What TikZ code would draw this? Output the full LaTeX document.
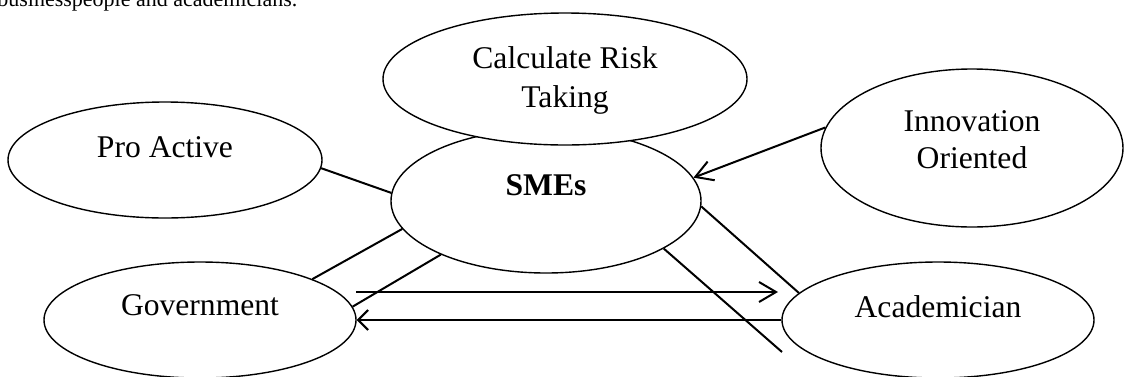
\documentclass[tikz,border=0pt]{standalone}
\usepackage{fontspec}
\setmainfont{Liberation Serif}
\usetikzlibrary{arrows.meta,shapes.geometric}

\begin{document}
\begin{tikzpicture}[
x=0.5pt, y=-0.5pt,
oval/.style={draw, ellipse, fill=white, line width=0.7pt, inner sep=0pt, align=center, text height=11pt, font=\fontsize{15.8pt}{18.5pt}\selectfont},
link/.style={line width=1pt},
arr/.style={-{Straight Barb[length=8.5pt,width=10pt]}, line width=1pt},
arrback/.style={-{Straight Barb[length=5pt,width=10pt]}, line width=1pt}
]
\useasboundingbox (0,0) rectangle (1125,376);
\clip (0,0) rectangle (1125,376);

\node[anchor=base west, inner sep=0pt, font=\fontsize{11pt}{13pt}\selectfont] (intro) at (-3,6) {businesspeople and academicians.};

\node[oval, minimum width=155pt, minimum height=72pt, text depth=17pt] (smes) at (546,201) {\textbf{SMEs}};
\node[oval, minimum width=182pt, minimum height=66pt, text height=32pt, text depth=4pt] (risk) at (565,79) {Calculate Risk\\[1pt]Taking};
\node[oval, minimum width=157pt, minimum height=58pt, text depth=14pt] (pro) at (165,160) {Pro Active};
\node[oval, minimum width=151pt, minimum height=79pt, text height=24pt, text depth=4pt] (innov) at (972,148) {Innovation\\Oriented};
\node[oval, minimum width=156pt, minimum height=58pt, text depth=16pt] (gov) at (200,320) {Government};
\node[oval, minimum width=156pt, minimum height=58pt, text depth=14pt] (acad) at (938,320) {Academician};

% free ends
\coordinate (cut) at (782,352);
\coordinate (fwdA) at (356,292);
\coordinate (fwdB) at (778,292);

\draw[link] (pro.357) -- (smes.177);
\draw[link] (gov.20) -- (smes.191);
\draw[link] (gov.5) -- (smes.207);
\draw[link] (smes.358) -- (acad.169);
\draw[link] (smes.338) -- (cut);
\draw[arr] (innov.172) -- (smes.9);
\draw[arr] (fwdA) -- (fwdB);
\draw[arrback] (acad.west) -- (gov.east);
\end{tikzpicture}
\end{document}
